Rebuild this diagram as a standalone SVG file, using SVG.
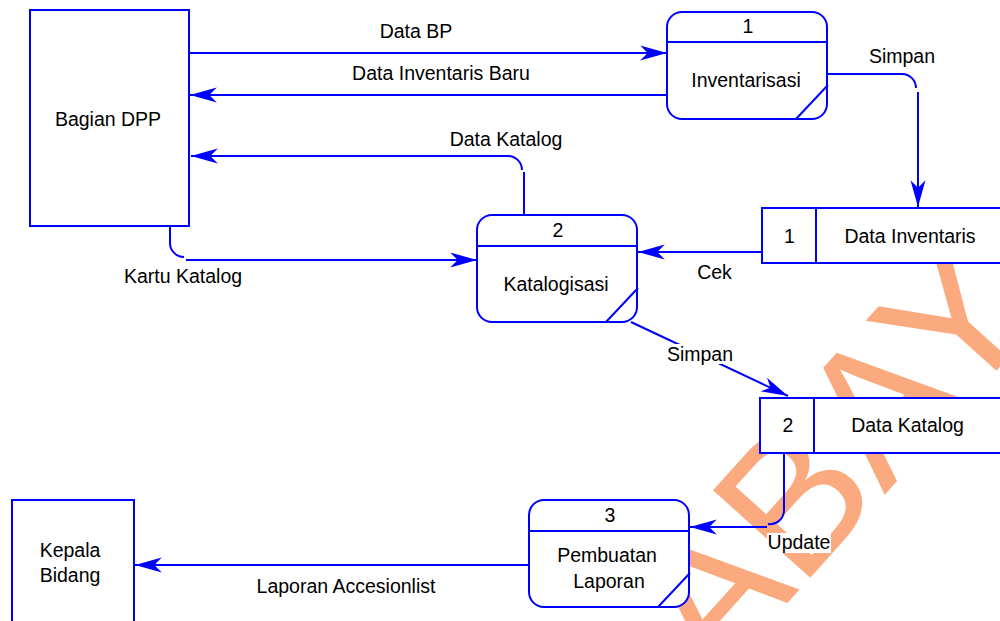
<svg xmlns="http://www.w3.org/2000/svg" width="1000" height="621" viewBox="0 0 1000 621">
<style>
.t{font-family:"Liberation Sans",Arial,sans-serif;font-size:19.5px;fill:#000;text-anchor:middle}
.box{fill:#fff;stroke:#0000ff;stroke-width:2}
.ln{fill:none;stroke:#0000ff;stroke-width:2}
.wm{font-family:"Liberation Sans",Arial,sans-serif;font-size:190px;fill:#fbaa80}
</style>
<defs>
<marker id="ah" markerUnits="userSpaceOnUse" markerWidth="30" markerHeight="20" viewBox="-26 -8 28 16" refX="0" refY="0" orient="auto">
<path d="M0,0 L-25,-7 L-18,0 L-25,7 Z" fill="#0000ff"/>
</marker>
</defs>
<rect width="1000" height="621" fill="#fff"/>
<text class="wm" x="446.5" y="981.5" transform="rotate(-48 446.5 981.5)">SURABAY<tspan dx="45">A</tspan></text>

<g id="connectors">
<path class="ln" d="M189,53 L667,53" marker-end="url(#ah)"/>
<path class="ln" d="M667,95 L190,95" marker-end="url(#ah)"/>
<path class="ln" d="M524,214 L524,172"/>
<path class="ln" d="M522,170 A14,14 0 0 0 508,156 L191,156" marker-end="url(#ah)"/>
<path class="ln" d="M170,226 L170,243 A14,14 0 0 0 184,257"/>
<path class="ln" d="M186,260 L477,260" marker-end="url(#ah)"/>
<path class="ln" d="M827,74 L902,74 A14,14 0 0 1 916,88"/>
<path class="ln" d="M918,92 L918,207" marker-end="url(#ah)"/>
<path class="ln" d="M762,252 L638,252" marker-end="url(#ah)"/>
<path class="ln" d="M631,322 L788,396" marker-end="url(#ah)"/>
<path class="ln" d="M784,453 L784,510 A14,14 0 0 1 768,524"/>
<path class="ln" d="M767,527 L690,527" marker-end="url(#ah)"/>
<path class="ln" d="M529,565 L135,565" marker-end="url(#ah)"/>
<rect x="666" y="344" width="69" height="20" fill="#fff"/>
<rect x="767" y="533" width="64" height="20" fill="#fff"/>
<text class="t" x="416" y="37.5">Data BP</text>
<text class="t" x="441" y="79.5">Data Inventaris Baru</text>
<text class="t" x="506" y="146">Data Katalog</text>
<text class="t" x="183" y="283">Kartu Katalog</text>
<text class="t" x="902" y="63.3">Simpan</text>
<text class="t" x="714.5" y="279">Cek</text>
<text class="t" x="700" y="361">Simpan</text>
<text class="t" x="799" y="549">Update</text>
<text class="t" x="346" y="592.5">Laporan Accesionlist</text>
</g>

<g id="bagian-dpp">
<rect class="box" x="30" y="10" width="159" height="216"/>
<text class="t" x="108" y="126">Bagian DPP</text>
</g>
<g id="kepala-bidang">
<rect class="box" x="12" y="500" width="122" height="125"/>
<text class="t" x="70" y="557">Kepala</text>
<text class="t" x="70" y="581.5">Bidang</text>
</g>
<g id="proc-1">
<rect class="box" x="667" y="12" width="160" height="107" rx="15"/>
<path class="ln" d="M667,42 L827,42 M796,119 L828,85"/>
<text class="t" x="748" y="33.3">1</text>
<text class="t" x="746" y="87">Inventarisasi</text>
</g>
<g id="proc-2">
<rect class="box" x="477" y="215" width="160" height="107" rx="15"/>
<path class="ln" d="M477,246 L637,246 M606,322 L638,288"/>
<text class="t" x="558" y="237">2</text>
<text class="t" x="556" y="291">Katalogisasi</text>
</g>
<g id="proc-3">
<rect class="box" x="529" y="500" width="160" height="107" rx="15"/>
<path class="ln" d="M529,531 L689,531 M658,607 L690,573"/>
<text class="t" x="610" y="521.5">3</text>
<text class="t" x="607" y="562">Pembuatan</text>
<text class="t" x="609" y="588.3">Laporan</text>
</g>
<g id="store-1">
<rect class="box" x="762" y="208" width="250" height="55"/>
<path class="ln" d="M816,208 L816,263"/>
<text class="t" x="789.5" y="243">1</text>
<text class="t" x="910" y="243">Data Inventaris</text>
</g>
<g id="store-2">
<rect class="box" x="760" y="398" width="250" height="55"/>
<path class="ln" d="M814,398 L814,453"/>
<text class="t" x="788" y="431.5">2</text>
<text class="t" x="907.5" y="431.5">Data Katalog</text>
</g>
</svg>
